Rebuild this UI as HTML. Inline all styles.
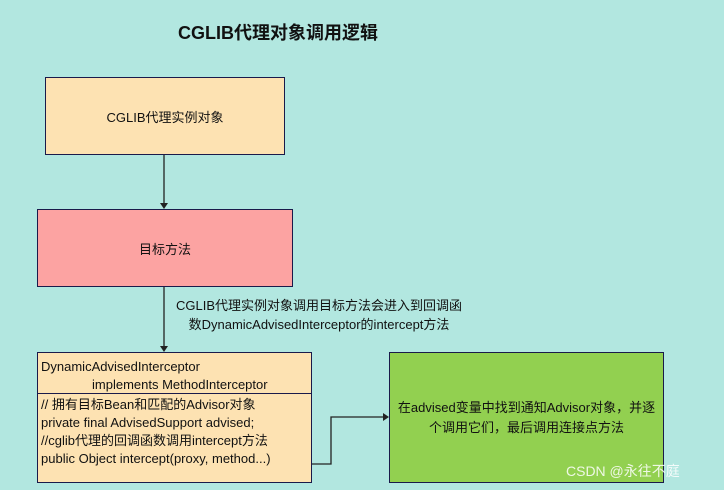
<!DOCTYPE html>
<html><head><meta charset="utf-8"><style>
body{margin:0;width:724px;height:490px;background:#b2e7e0;position:relative;overflow:hidden;font-family:"Liberation Sans","Noto Sans CJK SC",sans-serif;color:#111}
.b{position:absolute;box-sizing:border-box;border:1.5px solid #1a1a4a;display:flex;align-items:center;justify-content:center;text-align:center;font-size:13px}
.t{position:absolute;white-space:nowrap}
</style></head><body>
<div class="t" style="left:178px;top:19px;font-size:18px;font-weight:bold">CGLIB代理对象调用逻辑</div>
<div class="b" style="left:45px;top:77px;width:240px;height:78px;background:#fde2b2">CGLIB代理实例对象</div>
<div class="b" style="left:37px;top:209px;width:256px;height:78px;background:#fca3a2">目标方法</div>
<div class="t" style="left:176px;top:296px;font-size:13px;line-height:19px;text-align:center">CGLIB代理实例对象调用目标方法会进入到回调函<br>数DynamicAdvisedInterceptor的intercept方法</div>
<div style="position:absolute;left:37px;top:352px;width:275px;height:131px;box-sizing:border-box;border:1.5px solid #1a1a4a;background:#fde2b2;font-size:13px;line-height:18px">
<div style="padding:5px 0 0 3px;height:35px;border-bottom:1.5px solid #1a1a4a">DynamicAdvisedInterceptor<br><span style="padding-left:51px">implements MethodInterceptor</span></div>
<div style="padding:2px 0 0 3px">// 拥有目标Bean和匹配的Advisor对象<br>private final AdvisedSupport advised;<br>//cglib代理的回调函数调用intercept方法<br>public Object intercept(proxy, method...)</div>
</div>
<div class="b" style="left:389px;top:352px;width:275px;height:131px;background:#92d050;padding:0 6px;line-height:20px">在advised变量中找到通知Advisor对象，并逐个调用它们，最后调用连接点方法</div>
<svg width="724" height="490" style="position:absolute;left:0;top:0">
<g stroke="#222" stroke-width="1.3" fill="none">
<line x1="164" y1="155" x2="164" y2="203"/>
<line x1="164" y1="287" x2="164" y2="346"/>
<polyline points="312,464 331,464 331,417 383,417"/>
</g>
<g fill="#222">
<polygon points="160,203 168,203 164,209"/>
<polygon points="160,346 168,346 164,352"/>
<polygon points="383,413 383,421 389,417"/>
</g>
</svg>
<div class="t" style="left:566px;top:461px;font-size:14px;color:#fff;opacity:.85">CSDN @永往不庭</div>
</body></html>
